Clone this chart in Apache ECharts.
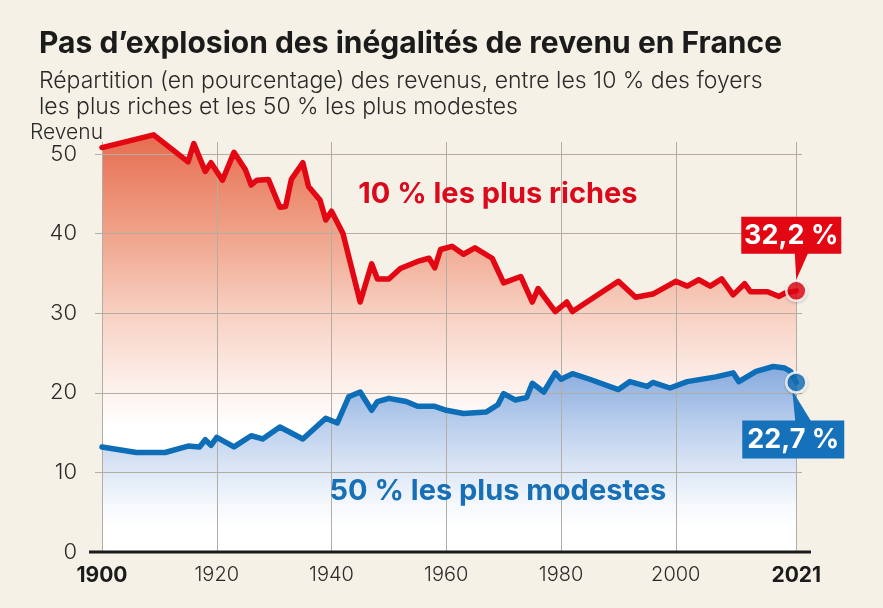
<!DOCTYPE html>
<html><head><meta charset="utf-8">
<script src="https://cdn.jsdelivr.net/npm/echarts@6/dist/echarts.min.js"></script>
<style>html,body{margin:0;padding:0;background:#f5f1e7;}#c{width:883px;height:608px;}</style>
</head><body><div id="c"></div>
<script>
// ---- Data ----
const titleText = "Pas d\u2019explosion des inégalités de revenu en France";
const subtitleText = "Répartition (en pourcentage) des revenus, entre les 10 % des foyers\nles plus riches et les 50 % les plus modestes";
const yAxisName = "Revenu";
const richesName = "10 % les plus riches";
const modestesName = "50 % les plus modestes";
const richesCallout = "32,2 %";
const modestesCallout = "22,7 %";

const yearsRiches = [1900,1909,1915,1916,1918,1919,1921,1923,1925,1926,1927,1929,1931,1932,1933,1935,1936,1938,1939,1940,1942,1945,1947,1948,1950,1952,1955,1957,1958,1959,1961,1963,1965,1968,1970,1973,1975,1976,1979,1981,1982,1990,1993,1996,2000,2002,2004,2006,2008,2010,2012,2013,2016,2018,2019,2021];
const valuesRiches = [50.8,52.4,49.0,51.3,47.8,48.9,46.7,50.2,48.0,46.1,46.7,46.8,43.3,43.4,46.8,48.9,45.9,44.2,41.7,42.8,40.0,31.4,36.2,34.3,34.3,35.6,36.5,36.9,35.7,38.0,38.4,37.4,38.2,36.9,33.8,34.6,31.4,33.1,30.2,31.4,30.2,34.0,32.0,32.4,34.0,33.4,34.2,33.4,34.3,32.3,33.7,32.7,32.7,32.1,32.5,32.8];

const yearsModestes = [1900,1906,1911,1915,1917,1918,1919,1920,1923,1926,1928,1931,1935,1939,1941,1943,1945,1947,1948,1950,1953,1955,1958,1960,1963,1967,1969,1970,1972,1974,1975,1977,1979,1980,1982,1985,1990,1992,1995,1996,1999,2002,2007,2010,2011,2014,2017,2019,2020,2021];
const valuesModestes = [13.2,12.5,12.5,13.3,13.2,14.1,13.4,14.4,13.2,14.6,14.2,15.7,14.2,16.8,16.2,19.5,20.1,17.8,18.9,19.3,18.9,18.3,18.3,17.8,17.4,17.6,18.5,19.9,19.1,19.4,21.2,20.1,22.5,21.7,22.4,21.7,20.4,21.4,20.8,21.3,20.6,21.4,22.0,22.5,21.4,22.7,23.3,23.1,22.7,21.3];

const xTickYears = [1900,1920,1940,1960,1980,2000,2021];
const boldYears = [1900,2021];
const yTickValues = [0,10,20,30,40,50];

// ---- Styles ----
const RED = '#e30613', BLUE = '#0d6db6', GRID = '#b3ada4';
const FONT = 'Inter, "Noto Sans", sans-serif';

const pairs = (xs, ys) => xs.map((x, i) => [x, ys[i]]);
const riches = pairs(yearsRiches, valuesRiches);
const modestes = pairs(yearsModestes, valuesModestes);

const chart = echarts.init(document.getElementById('c'), null, {renderer: 'canvas'});
const grad = (stops) => new echarts.graphic.LinearGradient(0, 0, 0, 1, stops.map(s => ({offset: s[0], color: s[1]})));

chart.setOption({
  backgroundColor: '#f5f1e7',
  animation: false,
  title: [
    {text: titleText, left: 34, top: 24,
     textStyle: {fontFamily: FONT, fontSize: 30, fontWeight: 'bold', color: '#1b1b1b'}},
    {text: subtitleText, left: 34, top: 63,
     textStyle: {fontFamily: FONT, fontSize: 23, fontWeight: 300, color: '#2a2a2a', lineHeight: 26}}
  ],
  grid: {left: 102, top: 142, width: 700, height: 410, containLabel: false},
  xAxis: {
    type: 'value', min: 1900, max: 2022, interval: 20, z: 1.5,
    axisLine: {show: false},
    axisTick: {show: false, customValues: xTickYears},
    splitLine: {show: true, lineStyle: {color: GRID, width: 1}},
    axisLabel: {
      customValues: xTickYears, margin: 13,
      formatter: v => (boldYears.includes(v) ? '{b|' + v + '}' : '{n|' + v + '}'),
      rich: {
        b: {fontFamily: FONT, fontSize: 21, fontWeight: 'bold', color: '#1b1b1b'},
        n: {fontFamily: FONT, fontSize: 20, fontWeight: 300, color: '#2a2a2a'}
      }
    }
  },
  yAxis: {
    type: 'value', min: 0, max: 51.5, interval: 10, z: 1.5,
    name: yAxisName, nameLocation: 'end', nameGap: -3,
    nameTextStyle: {fontFamily: FONT, fontSize: 21, fontWeight: 300, color: '#2a2a2a', align: 'right', verticalAlign: 'bottom', padding: [0, -1, 0, 0]},
    axisLine: {show: false},
    axisTick: {show: true, inside: false, length: 7, customValues: yTickValues, lineStyle: {color: GRID}},
    splitLine: {show: true, lineStyle: {color: GRID, width: 1}},
    axisLabel: {customValues: yTickValues, margin: 25, fontFamily: FONT, fontSize: 22, fontWeight: 300, color: '#2a2a2a'}
  },
  series: [
    {type: 'line', data: riches, z: 1, clip: false, symbol: 'none', silent: true,
     lineStyle: {width: 0},
     areaStyle: {origin: 'start', opacity: 1,
       color: grad([[0, '#e66c50'], [0.22, '#ef9f85'], [0.42, '#f7cfc0'], [0.58, '#fcece6'], [0.7, '#ffffff'], [1, '#ffffff']])}},
    {type: 'line', data: modestes, z: 1.2, clip: false, symbol: 'none', silent: true,
     lineStyle: {width: 0},
     areaStyle: {origin: 'start', opacity: 1,
       color: grad([[0, '#86aade'], [0.3, '#b8cdec'], [0.58, '#e0e9f7'], [0.75, '#f6f9fd'], [0.88, '#ffffff'], [1, '#ffffff']])}},
    {type: 'line', data: riches, z: 3, clip: false, symbol: 'none',
     lineStyle: {color: RED, width: 5.5, join: 'round', cap: 'round'}},
    {type: 'line', data: modestes, z: 3, clip: false, symbol: 'none',
     lineStyle: {color: BLUE, width: 5.5, join: 'round', cap: 'round'}},
    {type: 'scatter', z: 6, symbolSize: 20, clip: false,
     data: [riches[riches.length - 1]],
     itemStyle: {color: RED, borderColor: '#ffffff', borderWidth: 2.5, shadowColor: 'rgba(0,0,0,0.2)', shadowBlur: 3, shadowOffsetY: 1}},
    {type: 'scatter', z: 6, symbolSize: 20, clip: false,
     data: [modestes[modestes.length - 1]],
     itemStyle: {color: '#1571b9', borderColor: '#ffffff', borderWidth: 2.5, shadowColor: 'rgba(0,0,0,0.2)', shadowBlur: 3, shadowOffsetY: 1}}
  ]
});

// ---- Annotations positioned through the chart's own scales ----
const pR = chart.convertToPixel({gridIndex: 0}, riches[riches.length - 1]);
const pB = chart.convertToPixel({gridIndex: 0}, modestes[modestes.length - 1]);
const pL = chart.convertToPixel({gridIndex: 0}, [1900, 0]);
const pRt = chart.convertToPixel({gridIndex: 0}, [2022, 0]);
const pRichesLbl = chart.convertToPixel({gridIndex: 0}, [1969, 44.9]);
const pModLbl = chart.convertToPixel({gridIndex: 0}, [1969, 7.6]);

chart.setOption({
  graphic: [
    {type: 'line', z: 4, shape: {x1: pL[0] - 13, y1: pL[1], x2: pRt[0] + 9, y2: pL[1]},
     style: {stroke: '#1b1b1b', lineWidth: 3}},
    {type: 'text', z: 4, x: pRichesLbl[0], y: pRichesLbl[1],
     style: {text: richesName, fill: '#da0a1c', font: 'bold 29px ' + FONT, align: 'center', verticalAlign: 'middle'}},
    {type: 'text', z: 4, x: pModLbl[0], y: pModLbl[1],
     style: {text: modestesName, fill: '#176fb6', font: 'bold 29px ' + FONT, align: 'center', verticalAlign: 'middle'}},
    // red callout
    {type: 'polygon', z: 5, shape: {points: [[pR[0] - 1.5, pR[1] - 38], [pR[0] + 12, pR[1] - 38], [pR[0], pR[1] - 11]]}, style: {fill: RED}},
    {type: 'rect', z: 5, shape: {x: pR[0] - 55, y: pR[1] - 74, width: 100, height: 37}, style: {fill: RED}},
    {type: 'text', z: 5, x: pR[0] - 5, y: pR[1] - 55, style: {text: richesCallout, fill: '#ffffff', font: 'bold 27px ' + FONT, align: 'center', verticalAlign: 'middle'}},
    // blue callout
    {type: 'polygon', z: 5, shape: {points: [[pB[0] - 4, pB[1] + 8], [pB[0] - 1, pB[1] + 39], [pB[0] + 15, pB[1] + 39]]}, style: {fill: '#1571b9'}},
    {type: 'rect', z: 5, shape: {x: pB[0] - 54, y: pB[1] + 38, width: 102, height: 38}, style: {fill: '#1571b9'}},
    {type: 'text', z: 5, x: pB[0] - 3, y: pB[1] + 57, style: {text: modestesCallout, fill: '#ffffff', font: 'bold 27px ' + FONT, align: 'center', verticalAlign: 'middle'}}
  ]
});
</script></body></html>
